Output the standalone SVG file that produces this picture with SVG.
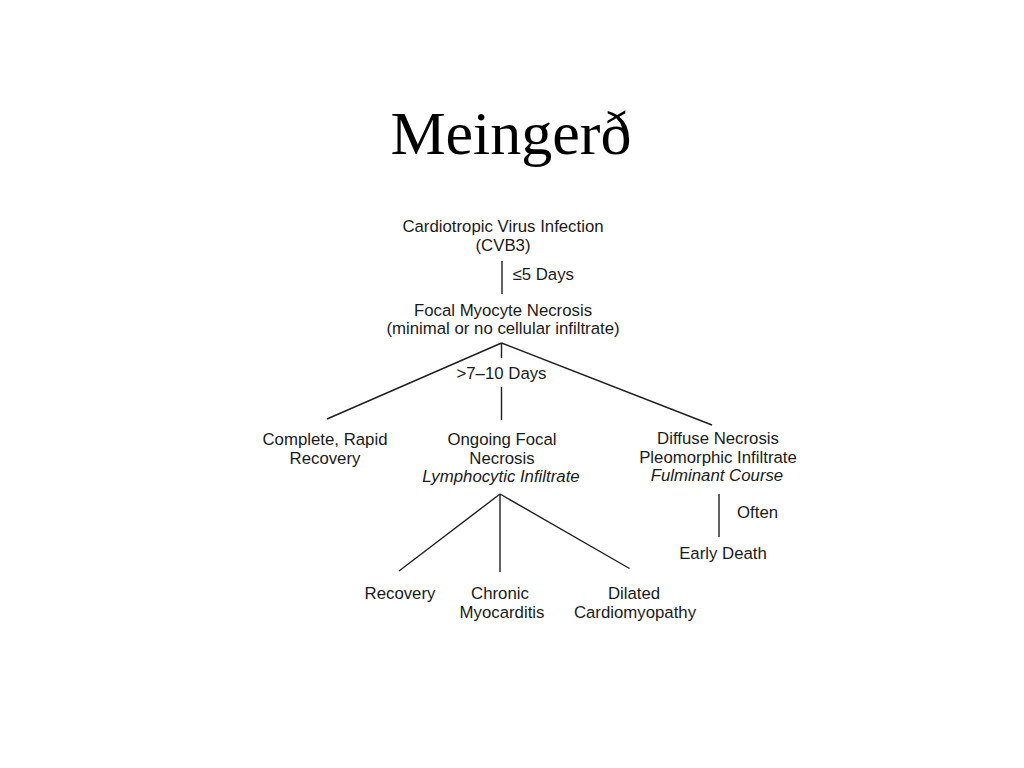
<svg xmlns="http://www.w3.org/2000/svg" width="1024" height="768" viewBox="0 0 1024 768">
<style>
.t{font-family:"Liberation Sans",Arial,sans-serif;font-size:16.8px;fill:#1a1a1a;text-anchor:middle}
.i{font-style:italic}
.s{text-anchor:start}
.title{font-family:"Liberation Serif","Times New Roman",serif;font-size:62px;fill:#000;text-anchor:middle}
.c line{stroke:#1e1e1e;stroke-width:1.4;fill:none}
</style>
<rect width="1024" height="768" fill="#ffffff"/>
<text class="title" x="511" y="154">Meingerð</text>
<g class="c" id="connectors">
<line x1="502" y1="261" x2="502" y2="294"/>
<line x1="501.5" y1="343" x2="501.5" y2="358"/>
<line x1="501.5" y1="387" x2="501.5" y2="420"/>
<line x1="501.5" y1="343" x2="327" y2="419"/>
<line x1="501.5" y1="343" x2="712" y2="425"/>
<line x1="500" y1="494" x2="399" y2="571"/>
<line x1="500" y1="494" x2="500" y2="572"/>
<line x1="500" y1="494" x2="629.5" y2="568.5"/>
<line x1="719" y1="494" x2="719" y2="537"/>
<text class="t s" x="512.5" y="280" style="stroke:none">≤5 Days</text>
<text class="t" x="501.5" y="379" style="stroke:none">&gt;7–10 Days</text>
<text class="t s" x="737" y="518" style="stroke:none">Often</text>
</g>
<g id="n-infection"><text class="t" x="503" y="232">Cardiotropic Virus Infection</text><text class="t" x="503" y="251">(CVB3)</text></g>
<g id="n-focal"><text class="t" x="503" y="316">Focal Myocyte Necrosis</text><text class="t" x="503" y="334">(minimal or no cellular infiltrate)</text></g>
<g id="n-complete"><text class="t" x="325" y="445">Complete, Rapid</text><text class="t" x="325" y="464">Recovery</text></g>
<g id="n-ongoing"><text class="t" x="502" y="445">Ongoing Focal</text><text class="t" x="502" y="464">Necrosis</text><text class="t i" x="501" y="482">Lymphocytic Infiltrate</text></g>
<g id="n-diffuse"><text class="t" x="718" y="444">Diffuse Necrosis</text><text class="t" x="718" y="463">Pleomorphic Infiltrate</text><text class="t i" x="717" y="481">Fulminant Course</text></g>
<g id="n-death"><text class="t" x="723" y="559">Early Death</text></g>
<g id="n-recovery"><text class="t" x="400" y="599">Recovery</text></g>
<g id="n-chronic"><text class="t" x="500" y="599">Chronic</text><text class="t" x="502" y="618">Myocarditis</text></g>
<g id="n-dilated"><text class="t" x="634" y="599">Dilated</text><text class="t" x="635" y="618">Cardiomyopathy</text></g>
</svg>
